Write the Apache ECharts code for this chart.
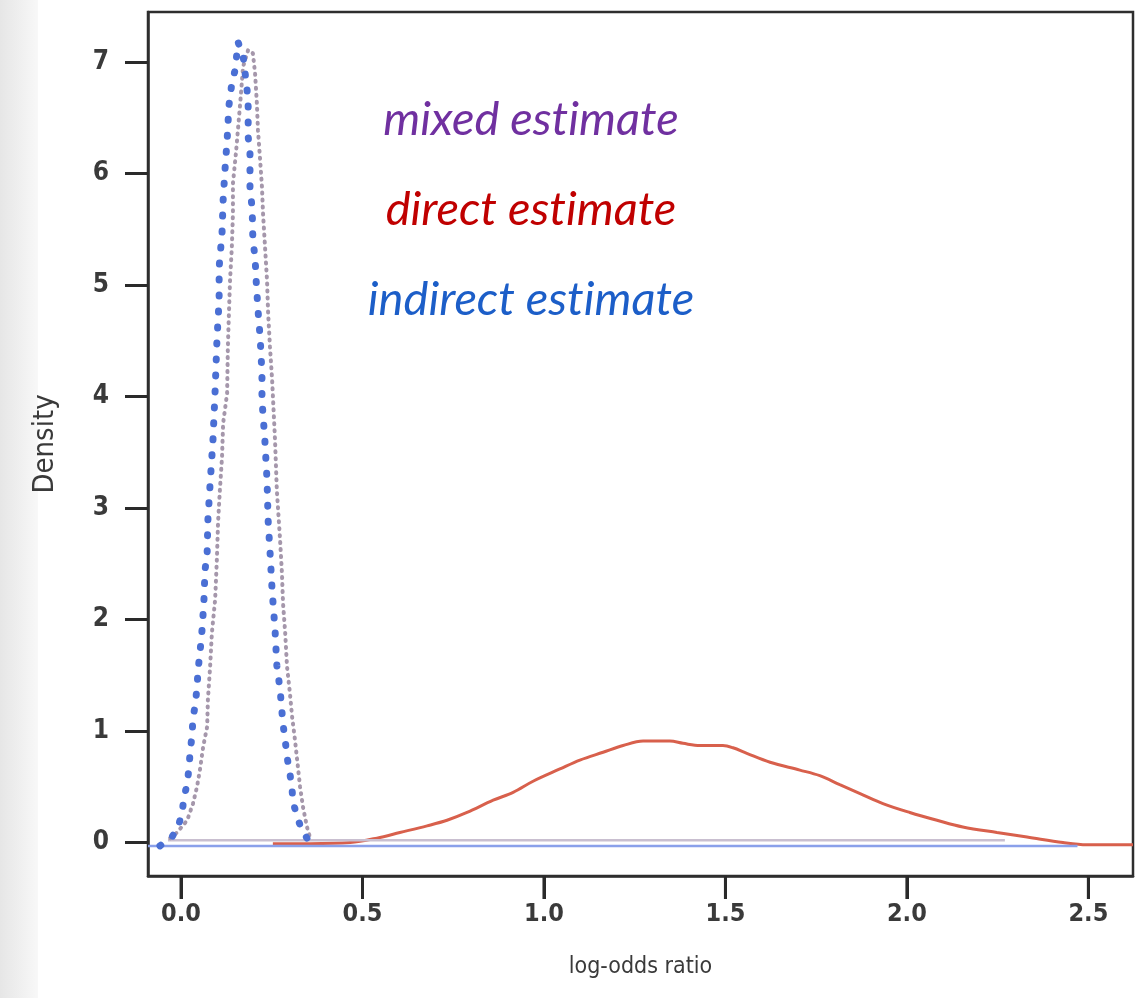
<!DOCTYPE html>
<html>
<head>
<meta charset="utf-8">
<script src="https://cdn.jsdelivr.net/npm/echarts@6/dist/echarts.min.js"></script>
<style>
  html, body { margin: 0; padding: 0; background: #fff; }
  #main { width: 1142px; height: 998px; }
</style>
</head>
<body>
<div id="main"></div>
<script>
// values (log-odds ratio, density)
var indirectX = [-0.058, -0.025, -0.008, 0.003, 0.008, 0.017, 0.022, 0.025, 0.030, 0.033, 0.039, 0.044, 0.047, 0.052, 0.058, 0.063, 0.066, 0.072, 0.074, 0.080, 0.088, 0.094, 0.099, 0.105, 0.105, 0.113, 0.116, 0.121, 0.127, 0.132, 0.140, 0.149, 0.154, 0.157,
  0.171, 0.182, 0.185, 0.185, 0.190, 0.190, 0.196, 0.198, 0.204, 0.207, 0.212, 0.218, 0.223, 0.223, 0.231, 0.237, 0.240, 0.245, 0.251, 0.259, 0.264, 0.273, 0.281, 0.287, 0.292, 0.300, 0.306, 0.309, 0.320, 0.333, 0.355, 0.377];
var indirectY = [-0.03, 0.05, 0.14, 0.27, 0.40, 0.53, 0.67, 0.81, 0.95, 1.12, 1.23, 1.39, 1.55, 1.70, 1.91, 2.16, 2.44, 2.60, 2.89, 3.21, 3.61, 4.06, 4.51, 4.87, 5.16, 5.47, 5.76, 6.03, 6.30, 6.61, 6.81, 6.93, 7.08, 7.18,
  7.06, 6.75, 6.60, 6.33, 6.18, 5.87, 5.69, 5.40, 5.25, 5.04, 4.78, 4.53, 4.21, 3.97, 3.61, 3.25, 2.89, 2.62, 2.26, 1.91, 1.59, 1.37, 1.06, 0.92, 0.77, 0.62, 0.47, 0.36, 0.23, 0.11, 0.00, -0.03];

var mixedX = [-0.030, -0.011, 0.017, 0.033, 0.044, 0.052, 0.061, 0.072, 0.074, 0.080, 0.085, 0.094, 0.099, 0.102, 0.107, 0.113, 0.116, 0.127, 0.129, 0.132, 0.135, 0.140, 0.143, 0.143, 0.152, 0.163, 0.171, 0.185,
  0.198, 0.204, 0.209, 0.212, 0.218, 0.223, 0.226, 0.237, 0.240, 0.245, 0.251, 0.259, 0.264, 0.273, 0.278, 0.281, 0.287, 0.292, 0.300, 0.306, 0.314, 0.322, 0.328, 0.336, 0.347, 0.355];
var mixedY = [0.04, 0.09, 0.20, 0.35, 0.50, 0.65, 0.86, 1.04, 1.28, 1.57, 1.88, 2.18, 2.56, 2.87, 3.16, 3.46, 3.76, 4.03, 4.44, 4.75, 5.04, 5.34, 5.64, 5.91, 6.21, 6.63, 6.96, 7.11,
  7.08, 6.90, 6.63, 6.39, 6.12, 5.88, 5.64, 5.04, 4.75, 4.45, 4.15, 3.61, 3.16, 2.71, 2.42, 2.15, 1.88, 1.58, 1.34, 1.13, 0.92, 0.68, 0.50, 0.32, 0.14, 0.05];

var directX = [0.253, 0.355, 0.466, 0.540, 0.603, 0.678, 0.733, 0.788, 0.860, 0.915, 0.970, 1.044, 1.099, 1.163, 1.218, 1.273, 1.347, 1.383, 1.430, 1.493, 1.521, 1.559, 1.623, 1.705, 1.760, 1.815, 1.871, 1.934, 2.008, 2.083, 2.154, 2.248, 2.331, 2.430, 2.496, 2.623];
var directY = [-0.01, -0.01, 0.00, 0.04, 0.09, 0.15, 0.20, 0.27, 0.38, 0.45, 0.55, 0.66, 0.74, 0.81, 0.87, 0.91, 0.91, 0.89, 0.87, 0.87, 0.85, 0.80, 0.72, 0.65, 0.60, 0.52, 0.44, 0.35, 0.27, 0.20, 0.14, 0.09, 0.05, 0.00, -0.02, -0.02];

// zero lines under the curves
var mixedBaseX = [-0.036, 2.27];
var mixedBaseY = [0.02, 0.02];
var indirectBaseX = [-0.091, 2.47];
var indirectBaseY = [-0.03, -0.03];

var xTicks = [0, 0.5, 1, 1.5, 2, 2.5];
var yTicks = [0, 1, 2, 3, 4, 5, 6, 7];
// \u200c keeps the "ti" pair from turning into a ligature
var labels = ['mixed est\u200cimate', 'direct est\u200cimate', 'indirect est\u200cimate'];

var yMin = -0.30, yMax = 7.45;

function zip(xs, ys) {
  return xs.map(function (x, i) { return [x, ys[i]]; });
}

var chart = echarts.init(document.getElementById('main'));
var axisFont = '"Liberation Sans Narrow", "DejaVu Sans Condensed", Arial, sans-serif';
var noteFont = 'italic 47px Lato, sans-serif';

chart.setOption({
  animation: false,
  backgroundColor: '#fff',
  grid: {
    left: 148, top: 12, right: 9, bottom: 122,
    show: true, borderColor: '#2e2e2e', borderWidth: 2.5
  },
  xAxis: {
    type: 'value',
    min: -0.091, max: 2.623,
    name: 'log-odds ratio',
    nameLocation: 'middle',
    nameGap: 80,
    nameTextStyle: { fontFamily: axisFont, fontSize: 23, color: '#3a3a3a' },
    axisLine: { show: true, onZero: false, lineStyle: { color: '#2e2e2e', width: 2.5 } },
    splitLine: { show: false },
    axisTick: { show: true, length: 23, customValues: xTicks, lineStyle: { color: '#2a2a2a', width: 3 } },
    axisLabel: {
      customValues: xTicks, margin: 26,
      fontFamily: axisFont, fontSize: 25, fontWeight: 'bold', color: '#3a3a3a',
      formatter: function (v) { return Number(v).toFixed(1); }
    }
  },
  yAxis: {
    type: 'value',
    min: yMin, max: yMax,
    name: 'Density',
    nameLocation: 'middle',
    nameRotate: 90,
    nameGap: 88,
    nameTextStyle: { fontFamily: axisFont, fontSize: 29, color: '#3a3a3a' },
    axisLine: { show: true, onZero: false, lineStyle: { color: '#2e2e2e', width: 2.5 } },
    splitLine: { show: false },
    axisTick: { show: true, length: 23, customValues: yTicks, lineStyle: { color: '#2a2a2a', width: 3 } },
    axisLabel: {
      customValues: yTicks, margin: 39,
      fontFamily: axisFont, fontSize: 26, fontWeight: 'bold', color: '#3a3a3a'
    }
  },
  graphic: [
    {
      type: 'rect', left: 0, top: 0, z: -10, silent: true,
      shape: { width: 38, height: 998 },
      style: { fill: new echarts.graphic.LinearGradient(0, 0, 1, 0, [{ offset: 0, color: '#e6e6e6' }, { offset: 1, color: '#f8f8f8' }]) }
    },
    {
      type: 'text', x: 531, y: 120, z: 100,
      style: { text: labels[0], fill: '#7030a0', font: noteFont, textAlign: 'center', textVerticalAlign: 'middle' }
    },
    {
      type: 'text', x: 531, y: 210, z: 100,
      style: { text: labels[1], fill: '#c00000', font: noteFont, textAlign: 'center', textVerticalAlign: 'middle' }
    },
    {
      type: 'text', x: 531, y: 300, z: 100,
      style: { text: labels[2], fill: '#1c5ec8', font: noteFont, textAlign: 'center', textVerticalAlign: 'middle' }
    }
  ],
  series: [
    {
      name: 'direct estimate', type: 'line', showSymbol: false, z: 2, smooth: 0.35,
      data: zip(directX, directY),
      lineStyle: { color: '#d8604c', width: 3 }
    },
    {
      name: 'mixed base', type: 'line', showSymbol: false, z: 3,
      data: zip(mixedBaseX, mixedBaseY),
      lineStyle: { color: '#c9bfd0', width: 2.5 }
    },
    {
      name: 'indirect base', type: 'line', showSymbol: false, z: 3,
      data: zip(indirectBaseX, indirectBaseY),
      lineStyle: { color: '#8aa0ea', width: 2.5 }
    },
    {
      name: 'mixed estimate', type: 'line', showSymbol: false, z: 4,
      data: zip(mixedX, mixedY),
      lineStyle: { color: '#a597ab', width: 4, type: [1, 6], cap: 'round' }
    },
    {
      name: 'indirect estimate', type: 'line', showSymbol: false, z: 5,
      data: zip(indirectX, indirectY),
      lineStyle: { color: '#4a6fd4', width: 7, type: [1, 15], cap: 'round' }
    },
    {
      // x tick marks hanging below the frame, placed through the x scale
      name: 'x ticks', type: 'custom', silent: true, clip: false, z: 10,
      data: xTicks.map(function (v) { return [v, yMin]; }),
      encode: { x: 0, y: 1 },
      renderItem: function (params, api) {
        var p = api.coord([api.value(0), yMin]);
        return {
          type: 'line',
          shape: { x1: p[0], y1: p[1], x2: p[0], y2: p[1] + 23 },
          style: { stroke: '#2a2a2a', lineWidth: 3 }
        };
      }
    }
  ]
});
</script>
</body>
</html>
